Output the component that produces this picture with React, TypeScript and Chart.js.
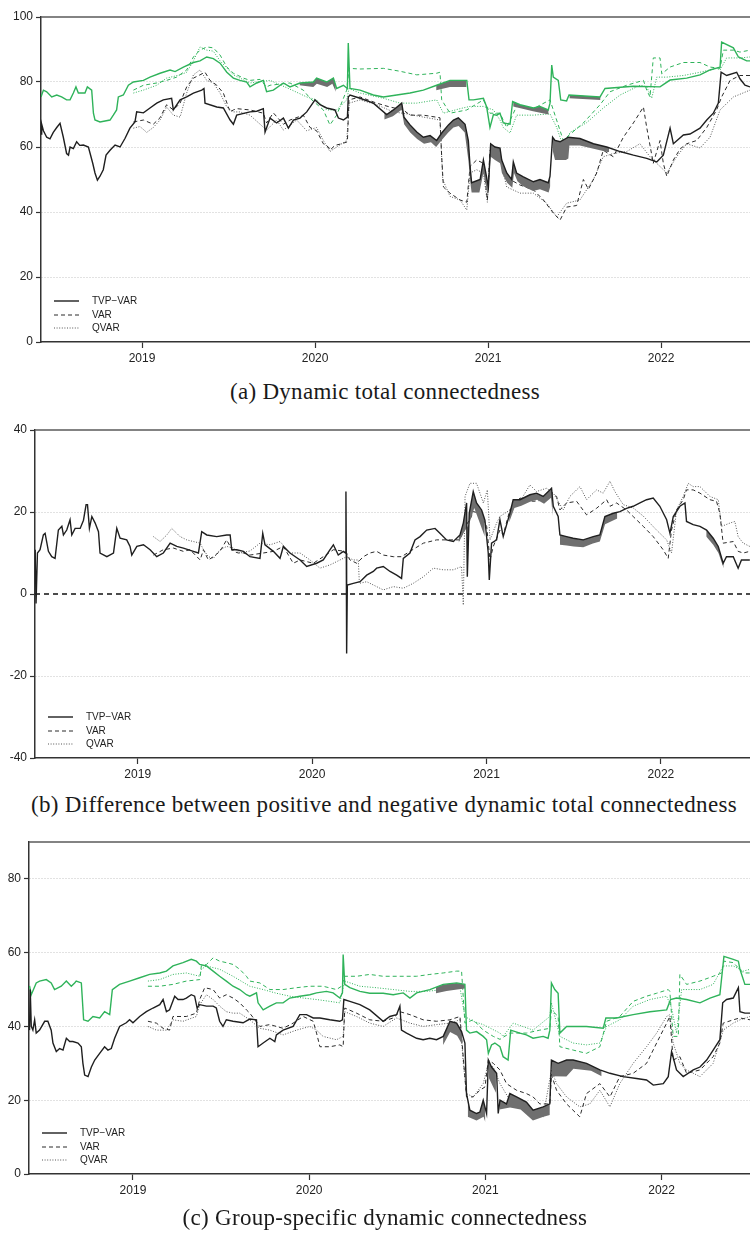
import React, { useEffect, useRef } from "react";
import { Chart, registerables } from "chart.js";

Chart.register(...registerables);

type Pt = [number, number | null];

// ---------- shared labels ----------
const YEAR_TICKS = [2019, 2020, 2021, 2022];
const LEGEND_LABELS = ["TVP\u2212VAR", "VAR", "QVAR"];
const CAPTIONS = [
  "(a) Dynamic total connectedness",
  "(b) Difference between positive and negative dynamic total connectedness",
  "(c) Group-specific dynamic connectedness",
];
const Y_TICKS_A = [0, 20, 40, 60, 80, 100];
const Y_TICKS_B = [-40, -20, 0, 20, 40];
const Y_TICKS_C = [0, 20, 40, 60, 80];

// ---------- panel (a): dynamic total connectedness ----------
const A_TVP: Pt[] = [
  [2018.416, 64], [2018.42, 67], [2018.43, 65], [2018.449, 63], [2018.468, 62.5], [2018.487, 64.5], [2018.507, 66],
  [2018.526, 67.3], [2018.545, 63], [2018.564, 58], [2018.575, 57.5], [2018.584, 60], [2018.603, 59.5], [2018.622, 61.6],
  [2018.64, 60.5], [2018.661, 60.6], [2018.69, 60], [2018.705, 57], [2018.715, 55], [2018.728, 52], [2018.742, 49.8],
  [2018.757, 51], [2018.776, 53], [2018.792, 57.5], [2018.815, 59], [2018.844, 60.6], [2018.873, 60], [2018.902, 62.7],
  [2018.93, 65.8], [2018.959, 67.7], [2018.969, 70.8], [2019.008, 70.5], [2019.046, 72], [2019.085, 73.5], [2019.123, 74.5],
  [2019.171, 75], [2019.181, 71.4], [2019.22, 74.5], [2019.258, 75.4], [2019.297, 76.6], [2019.345, 77.5], [2019.358, 78],
  [2019.364, 73.5], [2019.432, 72.3], [2019.47, 72], [2019.509, 68.3], [2019.528, 67], [2019.547, 69.8], [2019.624, 70.8],
  [2019.663, 71], [2019.701, 71.8], [2019.711, 64.6], [2019.74, 68.9], [2019.778, 67.4], [2019.817, 68.9], [2019.846, 65.8],
  [2019.875, 68.3], [2019.913, 68.9], [2019.952, 70.8], [2020.0, 74.5], [2020.029, 73], [2020.067, 72], [2020.115, 71.4],
  [2020.135, 68.9], [2020.164, 68.3], [2020.187, 69.2], [2020.192, 75.4], [2020.202, 76], [2020.26, 75], [2020.337, 73.5],
  [2020.414, 70], [2020.453, 71.4], [2020.501, 73.5], [2020.514, 69.2], [2020.549, 66.8], [2020.588, 64.6], [2020.626, 63],
  [2020.665, 63.5], [2020.703, 62], [2020.732, 64.3], [2020.771, 66.8], [2020.8, 68.3], [2020.828, 69], [2020.867, 67],
  [2020.886, 62], [2020.896, 54], [2020.905, 49], [2020.954, 50], [2020.973, 56], [2021.002, 47.7], [2021.015, 61],
  [2021.04, 60], [2021.069, 59.7], [2021.079, 56], [2021.108, 52], [2021.136, 50], [2021.146, 55.4], [2021.165, 52],
  [2021.204, 50.8], [2021.262, 49.3], [2021.3, 50], [2021.348, 49], [2021.358, 51], [2021.373, 63], [2021.387, 62],
  [2021.416, 61.6], [2021.464, 63], [2021.531, 62.6], [2021.609, 61], [2021.686, 60], [2021.763, 58.6], [2021.84, 57.5],
  [2021.917, 56.5], [2021.975, 55.4], [2022.013, 57.5], [2022.052, 65.8], [2022.071, 61], [2022.129, 63.7], [2022.167, 64],
  [2022.225, 65.8], [2022.264, 68.3], [2022.302, 70.4], [2022.331, 73.5], [2022.347, 83], [2022.379, 82], [2022.437, 83],
  [2022.456, 81], [2022.485, 79], [2022.514, 78.5],
];
const A_TVP_LOW: Pt[] = [
  [2020.40, 68.5], [2020.45, 69.5], [2020.50, 71.5], [2020.515, 67], [2020.55, 64.5], [2020.59, 62.5], [2020.63, 61],
  [2020.67, 61.5], [2020.70, 60], [2020.73, 62], [2020.77, 64.5], [2020.80, 66], [2020.83, 66.5], [2020.865, 64.5],
  [2020.886, 56], [2020.9, 48], [2020.905, 46], [2020.95, 46], [2020.973, 52], [2021.0, 45], [2021.015, 57],
  [2021.04, 56], [2021.07, 55], [2021.08, 52], [2021.11, 49], [2021.14, 47.5], [2021.15, 52], [2021.17, 49.5],
  [2021.2, 48], [2021.26, 46.5], [2021.3, 47], [2021.35, 46], [2021.36, 48], [2021.365, null],
  [2021.373, 59], [2021.387, 56], [2021.45, 56], [2021.464, 56.5], [2021.47, 60.5], [2021.53, 60.5], [2021.61, 59.5],
  [2021.69, 58.5], [2021.7, 58.5],
];
const A_GREEN_TVP: Pt[] = [
  [2018.416, 75.4], [2018.43, 77.5], [2018.449, 77], [2018.478, 75.4], [2018.507, 76], [2018.535, 75.4], [2018.564, 74.5],
  [2018.584, 74.5], [2018.603, 76.6], [2018.618, 78.5], [2018.632, 76.6], [2018.67, 76.6], [2018.684, 78.5], [2018.709, 77.5],
  [2018.719, 70.4], [2018.728, 68.3], [2018.757, 67.7], [2018.815, 68.3], [2018.834, 69.8], [2018.853, 71.4], [2018.863, 75.4],
  [2018.892, 76], [2018.921, 79], [2018.95, 80], [2019.008, 80.5], [2019.046, 81.5], [2019.104, 82.7], [2019.162, 83.7],
  [2019.191, 83.2], [2019.239, 84.6], [2019.297, 86], [2019.335, 86.5], [2019.374, 87.7], [2019.412, 87.2], [2019.451, 85.8],
  [2019.49, 83], [2019.528, 81.2], [2019.566, 80.5], [2019.605, 80], [2019.624, 78.5], [2019.663, 79.7], [2019.701, 80.5],
  [2019.72, 77], [2019.759, 77.5], [2019.817, 79.7], [2019.855, 78.5], [2019.913, 79.7], [2019.99, 80], [2020.009, 81.2],
  [2020.067, 80], [2020.106, 81.2], [2020.125, 78], [2020.164, 79], [2020.187, 78], [2020.192, 92], [2020.202, 78],
  [2020.26, 77.5], [2020.337, 76], [2020.395, 75.4], [2020.472, 76], [2020.549, 76.6], [2020.626, 77.5], [2020.703, 79],
  [2020.78, 80.5], [2020.877, 80.5], [2020.89, 74.5], [2020.915, 74.5], [2020.973, 75], [2020.992, 72.3], [2021.011, 66],
  [2021.031, 70], [2021.05, 69.8], [2021.069, 70.4], [2021.088, 67.4], [2021.127, 67], [2021.142, 74], [2021.185, 73],
  [2021.262, 72], [2021.3, 72.5], [2021.348, 71.4], [2021.358, 73.5], [2021.368, 85.2], [2021.377, 81.5], [2021.406, 80.5],
  [2021.42, 74.5], [2021.454, 74.2], [2021.468, 76], [2021.647, 75.4], [2021.676, 78], [2021.84, 78.7], [2021.994, 78.5],
  [2022.052, 80.6], [2022.148, 81.2], [2022.225, 82.2], [2022.283, 83.7], [2022.341, 84.6], [2022.35, 92.3], [2022.418, 90.5],
  [2022.447, 87.7], [2022.495, 86.5], [2022.514, 86.5],
];
const A_GREEN_TVP_LOW: Pt[] = [
  [2019.91, 79], [2019.99, 78.5], [2020.01, 79.5], [2020.07, 78.5], [2020.1, 79.5], [2020.12, 77], [2020.13, null],
  [2020.70, 77.5], [2020.78, 78.5], [2020.876, 78.5], [2020.88, null],
  [2021.145, 72.5], [2021.26, 71], [2021.35, 70], [2021.355, null],
  [2021.47, 75], [2021.65, 74.5],
];
const A_VAR: Pt[] = [
  [2018.95, 67.7], [2019.008, 68.3], [2019.065, 67], [2019.104, 69], [2019.142, 73], [2019.181, 71.4], [2019.22, 73.5],
  [2019.258, 78.5], [2019.297, 81.2], [2019.335, 82.2], [2019.364, 83], [2019.393, 80.5], [2019.432, 79], [2019.47, 76.6],
  [2019.509, 70.8], [2019.528, 71.4], [2019.547, 71.8], [2019.624, 71.4], [2019.701, 70.4], [2019.72, 67.4], [2019.759, 70.5],
  [2019.817, 67], [2019.855, 68.3], [2019.932, 69.8], [2019.971, 66], [2020.009, 65], [2020.048, 61], [2020.077, 60],
  [2020.086, 59], [2020.115, 60.5], [2020.154, 61], [2020.187, 61.6], [2020.196, 74.5], [2020.26, 75.4], [2020.356, 73.5],
  [2020.433, 72.3], [2020.51, 71.4], [2020.549, 69.8], [2020.626, 69.8], [2020.722, 69], [2020.732, 57], [2020.742, 47.7],
  [2020.78, 45.8], [2020.838, 43.7], [2020.877, 43], [2020.896, 54], [2020.934, 56], [2020.973, 55], [2020.996, 43.7],
  [2021.011, 59], [2021.04, 59], [2021.069, 56], [2021.127, 50], [2021.185, 48.3], [2021.262, 46.8], [2021.32, 43.7],
  [2021.377, 39.7], [2021.416, 37.5], [2021.454, 41.5], [2021.512, 42], [2021.551, 50], [2021.58, 47], [2021.628, 52],
  [2021.666, 59], [2021.724, 57], [2021.782, 63], [2021.84, 67.4], [2021.898, 72.3], [2021.917, 66], [2021.955, 55],
  [2021.994, 62], [2022.013, 55], [2022.033, 51], [2022.071, 56], [2022.11, 59.4], [2022.148, 61], [2022.206, 62],
  [2022.264, 66], [2022.321, 71.4], [2022.35, 75.4], [2022.399, 80.5], [2022.456, 82], [2022.514, 82],
];
const A_QVAR: Pt[] = [
  [2018.95, 65.8], [2018.988, 66.3], [2019.027, 64.5], [2019.065, 66], [2019.104, 68.3], [2019.142, 72.3], [2019.181, 69.8],
  [2019.22, 69.2], [2019.258, 76.6], [2019.297, 82.2], [2019.335, 83.7], [2019.374, 80.5], [2019.412, 79.7], [2019.451, 76.6],
  [2019.49, 72.3], [2019.528, 70.8], [2019.566, 70.8], [2019.624, 69.8], [2019.72, 65.2], [2019.778, 68.3], [2019.817, 65.2],
  [2019.894, 68.3], [2019.952, 65], [2020.009, 66], [2020.048, 62], [2020.086, 58.6], [2020.125, 60], [2020.183, 62],
  [2020.198, 73.5], [2020.26, 74.5], [2020.356, 73], [2020.453, 70.8], [2020.53, 70.2], [2020.626, 69.2], [2020.722, 68.3],
  [2020.738, 50], [2020.78, 44.8], [2020.838, 43.7], [2020.877, 40.6], [2020.896, 52], [2020.934, 53], [2020.973, 52],
  [2020.996, 43], [2021.011, 57.5], [2021.069, 56], [2021.079, 54], [2021.108, 47.7], [2021.185, 45.8], [2021.262, 45.8],
  [2021.339, 42.7], [2021.397, 38.5], [2021.454, 42.7], [2021.531, 43.7], [2021.609, 50], [2021.666, 57], [2021.724, 58],
  [2021.801, 58.6], [2021.878, 61], [2021.936, 57], [2021.994, 54], [2022.033, 52], [2022.09, 57], [2022.148, 61],
  [2022.225, 59.7], [2022.283, 63], [2022.341, 71.4], [2022.418, 75.4], [2022.514, 77.5],
];
const A_GREEN_VAR: Pt[] = [
  [2018.95, 77.5], [2019.008, 79], [2019.085, 79.7], [2019.142, 80.5], [2019.2, 81.5], [2019.258, 83.7], [2019.297, 87.7],
  [2019.335, 89.8], [2019.374, 90.8], [2019.412, 90.5], [2019.451, 88.3], [2019.49, 84.6], [2019.528, 82.7], [2019.586, 81.2],
  [2019.624, 80.5], [2019.682, 80.8], [2019.72, 78.5], [2019.74, 79], [2019.855, 79.7], [2019.932, 77.5], [2019.971, 75],
  [2020.048, 71.4], [2020.086, 66.8], [2020.125, 69.8], [2020.183, 77.5], [2020.196, 84.2], [2020.26, 84], [2020.395, 84.2],
  [2020.491, 83.3], [2020.588, 82.2], [2020.703, 82.7], [2020.722, 83], [2020.732, 74.5], [2020.78, 70.4], [2020.877, 71.4],
  [2020.973, 74.5], [2021.011, 70.4], [2021.069, 70.4], [2021.108, 66], [2021.165, 72.5], [2021.262, 71.8], [2021.358, 74.5],
  [2021.377, 71.4], [2021.435, 62], [2021.454, 63], [2021.551, 67.4], [2021.647, 73], [2021.705, 77], [2021.801, 79],
  [2021.898, 80.5], [2021.917, 77.5], [2021.936, 75.4], [2021.955, 87.4], [2021.994, 87.4], [2022.004, 82.5], [2022.052, 84.6],
  [2022.129, 86], [2022.225, 86], [2022.283, 84.6], [2022.341, 84.2], [2022.36, 89.8], [2022.418, 89.8], [2022.456, 89.2],
  [2022.514, 89.8],
];
const A_GREEN_QVAR: Pt[] = [
  [2018.95, 76.6], [2019.008, 77.5], [2019.085, 79], [2019.142, 81.2], [2019.22, 82.2], [2019.258, 83], [2019.297, 86.5],
  [2019.335, 90.8], [2019.374, 89.8], [2019.412, 89.5], [2019.451, 86.5], [2019.528, 82.2], [2019.624, 79.7], [2019.74, 80.5],
  [2019.855, 77.8], [2019.952, 75.4], [2020.009, 74.5], [2020.067, 71.4], [2020.125, 71.4], [2020.183, 74.5], [2020.196, 78],
  [2020.26, 76.6], [2020.395, 75], [2020.491, 73.5], [2020.588, 73.5], [2020.703, 74.5], [2020.742, 70.4], [2020.838, 71.8],
  [2020.896, 72.5], [2020.973, 72.5], [2021.031, 71.4], [2021.069, 68.3], [2021.088, 66], [2021.127, 64.3], [2021.165, 69.8],
  [2021.262, 69.8], [2021.358, 70.2], [2021.397, 66], [2021.435, 60], [2021.474, 64.5], [2021.57, 67.5], [2021.666, 72],
  [2021.763, 76], [2021.878, 79], [2021.917, 78.5], [2021.946, 75], [2021.975, 81.5], [2022.033, 81.5], [2022.129, 82],
  [2022.225, 83], [2022.321, 84.2], [2022.341, 83.7], [2022.379, 87.4], [2022.456, 87.4], [2022.514, 87.7],
];

// ---------- panel (b): positive minus negative ----------
const B_TVP: Pt[] = [
  [2018.412, 10.8], [2018.417, -2.3], [2018.425, 10], [2018.44, 10.8], [2018.459, 14.4], [2018.469, 14.8], [2018.488, 10.4],
  [2018.507, 9.1], [2018.526, 8.7], [2018.545, 15.6], [2018.565, 16.5], [2018.574, 14.4], [2018.593, 15.6], [2018.612, 18.1],
  [2018.622, 14.4], [2018.641, 16], [2018.67, 16], [2018.689, 18], [2018.704, 21.8], [2018.712, 21.8], [2018.723, 16],
  [2018.737, 18.9], [2018.756, 17.3], [2018.775, 15.2], [2018.784, 10], [2018.823, 9.1], [2018.861, 10], [2018.88, 16],
  [2018.899, 13.6], [2018.937, 13.2], [2018.956, 11.6], [2018.966, 9.5], [2018.995, 11.6], [2019.033, 12], [2019.071, 10.8],
  [2019.109, 9.1], [2019.147, 10], [2019.186, 12.4], [2019.224, 11.6], [2019.262, 11.2], [2019.319, 10.4], [2019.348, 10],
  [2019.367, 15.2], [2019.396, 14.4], [2019.453, 14], [2019.51, 14.4], [2019.53, 14.4], [2019.539, 10.8], [2019.568, 10.8],
  [2019.606, 10.4], [2019.644, 9.1], [2019.701, 8.7], [2019.717, 14.8], [2019.73, 12], [2019.778, 10.4], [2019.816, 8.7],
  [2019.835, 11.6], [2019.873, 10], [2019.931, 8.3], [2019.969, 6.7], [2020.026, 7.5], [2020.064, 8.3], [2020.103, 10.8],
  [2020.122, 12], [2020.15, 9.5], [2020.179, 10.4], [2020.192, 10], [2020.194, 25], [2020.196, 10], [2020.198, -14.5],
  [2020.202, 2.2], [2020.236, 2.6], [2020.275, 3], [2020.313, 4.6], [2020.351, 5.5], [2020.37, 6.3], [2020.408, 6.7],
  [2020.447, 5.5], [2020.485, 4.6], [2020.513, 3.8], [2020.523, 8.7], [2020.561, 10], [2020.59, 13.2], [2020.619, 14],
  [2020.657, 15.6], [2020.705, 16], [2020.733, 14.8], [2020.771, 13.2], [2020.81, 12.8], [2020.848, 14.4], [2020.867, 17.3],
  [2020.886, 22.2], [2020.89, 4.2], [2020.901, 19.7], [2020.924, 25], [2020.943, 22.2], [2020.972, 20.5], [2020.991, 18],
  [2021.01, 10], [2021.016, 3.4], [2021.029, 12.4], [2021.058, 13.2], [2021.077, 18.1], [2021.096, 14], [2021.134, 19.7],
  [2021.153, 23], [2021.192, 23], [2021.249, 24.2], [2021.287, 24.6], [2021.325, 23.8], [2021.373, 25.8], [2021.383, 21.4],
  [2021.411, 18.9], [2021.421, 14.4], [2021.459, 14], [2021.497, 13.6], [2021.555, 13.2], [2021.612, 14], [2021.65, 14.4],
  [2021.679, 18.9], [2021.727, 19.7], [2021.765, 20.1], [2021.803, 20.9], [2021.841, 21.4], [2021.88, 22.2], [2021.918, 23],
  [2021.956, 23.4], [2021.994, 21.4], [2022.033, 18.1], [2022.052, 14.8], [2022.071, 18.9], [2022.109, 21.4], [2022.138, 22.2],
  [2022.147, 17.7], [2022.185, 16.9], [2022.224, 16.5], [2022.262, 15.6], [2022.3, 13.6], [2022.329, 11.6], [2022.357, 7.5],
  [2022.376, 9.1], [2022.415, 9.1], [2022.443, 6.3], [2022.462, 8.3], [2022.51, 8.3],
];
const B_TVP_LOW: Pt[] = [
  [2020.84, 12.5], [2020.87, 15], [2020.9, 17], [2020.93, 21], [2020.96, 17.5], [2020.99, 14], [2020.995, null],
  [2021.13, 17.5], [2021.16, 21], [2021.2, 21.5], [2021.25, 22.5], [2021.29, 23], [2021.33, 22], [2021.37, 23.5],
  [2021.38, 19], [2021.39, null],
  [2021.421, 12], [2021.46, 11.8], [2021.5, 11.6], [2021.555, 11.4], [2021.61, 12.3], [2021.65, 12.8], [2021.68, 17],
  [2021.75, 18.4], [2021.76, null],
  [2022.26, 14], [2022.3, 12], [2022.33, 10], [2022.36, 6.3],
];
const B_VAR: Pt[] = [
  [2019.09, 9.5], [2019.147, 10.8], [2019.205, 11.2], [2019.262, 10.4], [2019.3, 10.8], [2019.358, 8.3], [2019.377, 10.8],
  [2019.405, 8.3], [2019.434, 9.1], [2019.472, 10.4], [2019.51, 13.2], [2019.53, 11.6], [2019.549, 10.4], [2019.577, 10],
  [2019.606, 10], [2019.644, 9.5], [2019.72, 10], [2019.778, 10.4], [2019.835, 11.6], [2019.892, 7.5], [2019.931, 8.3],
  [2020.007, 7.5], [2020.064, 9.1], [2020.122, 10.8], [2020.189, 10.4], [2020.217, 8.3], [2020.256, 7.5], [2020.294, 9.1],
  [2020.332, 10], [2020.37, 10.4], [2020.408, 9.5], [2020.466, 9.1], [2020.513, 9.1], [2020.561, 10.4], [2020.638, 12.4],
  [2020.714, 13.2], [2020.791, 13.2], [2020.848, 13.2], [2020.877, 16.5], [2020.905, 18.1], [2020.924, 20.1], [2020.963, 19.7],
  [2021.001, 16.5], [2021.02, 8.3], [2021.039, 11.6], [2021.077, 15.6], [2021.096, 14.4], [2021.134, 20.5], [2021.192, 23.4],
  [2021.268, 22.6], [2021.345, 23], [2021.373, 24.6], [2021.402, 23.8], [2021.421, 20.5], [2021.459, 22.2], [2021.517, 22.6],
  [2021.574, 19.3], [2021.631, 20.9], [2021.689, 23], [2021.708, 21.4], [2021.746, 22.2], [2021.803, 20.5], [2021.841, 18.9],
  [2021.899, 16.5], [2021.956, 14], [2022.013, 10.8], [2022.042, 8.7], [2022.061, 15.6], [2022.09, 20.5], [2022.128, 23],
  [2022.147, 25.4], [2022.185, 25.4], [2022.224, 24.6], [2022.281, 23], [2022.319, 22.6], [2022.338, 19.7], [2022.357, 12.4],
  [2022.415, 12.8], [2022.443, 10.4], [2022.472, 10], [2022.51, 10.4],
];
const B_QVAR: Pt[] = [
  [2019.09, 14], [2019.128, 12.8], [2019.167, 14.4], [2019.195, 16], [2019.243, 14], [2019.281, 13.2], [2019.319, 12.8],
  [2019.358, 12.4], [2019.377, 10.8], [2019.405, 9.1], [2019.434, 8.7], [2019.472, 10.8], [2019.51, 11.6], [2019.549, 11.2],
  [2019.587, 10], [2019.644, 10.5], [2019.701, 12.4], [2019.759, 12], [2019.816, 12.8], [2019.873, 10], [2019.931, 10],
  [2019.988, 8.3], [2020.045, 6.3], [2020.103, 7.1], [2020.16, 8.3], [2020.198, 9.1], [2020.236, 8.3], [2020.265, 8.3],
  [2020.271, 2.6], [2020.313, 3], [2020.37, 1.8], [2020.408, 1], [2020.466, 1.8], [2020.523, 1.4], [2020.58, 2.6],
  [2020.638, 4.2], [2020.695, 6.3], [2020.752, 5.9], [2020.81, 5.9], [2020.857, 6.7], [2020.867, -2.7], [2020.877, 23.8],
  [2020.905, 27], [2020.943, 27], [2020.982, 22.2], [2021.005, 25.4], [2021.02, 13.2], [2021.058, 17.3], [2021.077, 18.9],
  [2021.134, 20.5], [2021.192, 22.6], [2021.249, 26.6], [2021.287, 25], [2021.345, 25.8], [2021.383, 24.6], [2021.411, 22.6],
  [2021.44, 20.5], [2021.478, 23.8], [2021.536, 26.2], [2021.574, 23], [2021.631, 25.4], [2021.669, 24.6], [2021.708, 27.5],
  [2021.736, 25], [2021.784, 21.8], [2021.841, 21], [2021.899, 19], [2021.975, 15.6], [2022.033, 13.2], [2022.061, 10],
  [2022.09, 20.5], [2022.128, 23.8], [2022.157, 27], [2022.185, 26.2], [2022.224, 26.2], [2022.281, 23.8], [2022.329, 23],
  [2022.348, 16.5], [2022.396, 17.3], [2022.424, 17.7], [2022.443, 14], [2022.472, 12.4], [2022.51, 11.6],
];
const B_ZERO: Pt[] = [[2018.411, 0], [2022.511, 0]];

// ---------- panel (c): group-specific ----------
const C_TVP: Pt[] = [
  [2018.413, 39], [2018.417, 50], [2018.423, 40], [2018.432, 39], [2018.442, 41.8], [2018.451, 38.2], [2018.47, 39],
  [2018.499, 41.4], [2018.517, 41.4], [2018.536, 39], [2018.546, 35.5], [2018.565, 33.2], [2018.584, 34], [2018.603, 33.6],
  [2018.622, 36.8], [2018.641, 35.9], [2018.659, 35.9], [2018.688, 35.5], [2018.707, 34.5], [2018.716, 30], [2018.726, 26.8],
  [2018.745, 26.4], [2018.764, 29], [2018.783, 30.9], [2018.811, 32.7], [2018.839, 34.5], [2018.858, 33.6], [2018.877, 34],
  [2018.896, 36.8], [2018.924, 40], [2018.962, 41], [2018.981, 41.8], [2019.0, 41], [2019.038, 42.7], [2019.076, 44],
  [2019.114, 45], [2019.152, 45.9], [2019.171, 47.3], [2019.19, 44], [2019.208, 44.5], [2019.237, 48.2], [2019.256, 47.3],
  [2019.284, 47.3], [2019.303, 47.7], [2019.331, 48.6], [2019.35, 48.2], [2019.364, 45], [2019.379, 45.9], [2019.417, 45.5],
  [2019.455, 45.5], [2019.473, 45], [2019.492, 41.4], [2019.511, 40], [2019.53, 41.8], [2019.568, 41.4], [2019.625, 41],
  [2019.663, 42], [2019.701, 41.8], [2019.71, 34.5], [2019.739, 35.5], [2019.777, 36.8], [2019.805, 35.9], [2019.814, 37.7],
  [2019.852, 39], [2019.909, 40], [2019.947, 43.2], [2019.985, 43.2], [2020.023, 42.3], [2020.061, 42.3], [2020.117, 41.8],
  [2020.174, 41.4], [2020.189, 41.8], [2020.197, 47.3], [2020.231, 46.8], [2020.288, 45.9], [2020.344, 44.5], [2020.42, 41.4],
  [2020.458, 42.7], [2020.496, 43.2], [2020.515, 45.5], [2020.524, 39], [2020.553, 38.2], [2020.61, 36.8], [2020.647, 36.4],
  [2020.685, 36.8], [2020.723, 36.4], [2020.761, 37.3], [2020.799, 41.4], [2020.837, 40.9], [2020.865, 38.6], [2020.884, 35.5],
  [2020.893, 21.8], [2020.912, 17.3], [2020.95, 16.4], [2020.969, 16.8], [2020.988, 20], [2021.007, 16.4], [2021.017, 30.9],
  [2021.035, 29], [2021.064, 27.3], [2021.073, 16.4], [2021.083, 20], [2021.12, 19], [2021.139, 21.8], [2021.177, 20.9],
  [2021.233, 19.5], [2021.271, 17.3], [2021.328, 18.2], [2021.366, 19], [2021.375, 30.9], [2021.413, 30], [2021.461, 30.9],
  [2021.498, 30.9], [2021.574, 30], [2021.65, 28.2], [2021.707, 27.3], [2021.782, 26.4], [2021.858, 25.9], [2021.915, 25.5],
  [2021.953, 24.1], [2022.01, 24.5], [2022.038, 26.4], [2022.057, 33.2], [2022.085, 28.2], [2022.123, 26.4], [2022.18, 28.2],
  [2022.218, 29], [2022.256, 30.9], [2022.293, 33.6], [2022.331, 36.4], [2022.347, 46.4], [2022.369, 47.3], [2022.407, 47.7],
  [2022.436, 50.5], [2022.445, 44], [2022.473, 43.6], [2022.502, 43.6],
];
const C_TVP_LOW: Pt[] = [
  [2020.76, 35], [2020.8, 38.5], [2020.84, 37.5], [2020.87, 35], [2020.88, null],
  [2020.9, 15.5], [2020.95, 14.5], [2020.99, 15.5], [2021.0, 14], [2021.01, null],
  [2021.02, 26], [2021.06, 22], [2021.07, null],
  [2021.08, 17.5], [2021.14, 18], [2021.2, 17.5], [2021.27, 14.5], [2021.33, 15.5], [2021.366, 16], [2021.37, null],
  [2021.378, 26.5], [2021.46, 26.4], [2021.5, 28.5], [2021.6, 28], [2021.66, 26.5],
];
const C_GREEN_TVP: Pt[] = [
  [2018.413, 51], [2018.423, 48.6], [2018.451, 51.8], [2018.47, 52.3], [2018.508, 52.7], [2018.536, 51.8], [2018.555, 50],
  [2018.593, 50.9], [2018.622, 52.3], [2018.65, 50.9], [2018.669, 51.8], [2018.678, 52.3], [2018.707, 51.8], [2018.72, 41.8],
  [2018.745, 41.4], [2018.773, 42.7], [2018.811, 42.3], [2018.839, 44], [2018.868, 43.2], [2018.883, 50], [2018.924, 51.4],
  [2018.981, 52.3], [2019.038, 53.2], [2019.095, 54.1], [2019.152, 54.5], [2019.19, 55], [2019.227, 56.4], [2019.284, 57.3],
  [2019.331, 58.2], [2019.36, 57.7], [2019.379, 56.8], [2019.417, 56.4], [2019.455, 55], [2019.492, 53.6], [2019.53, 52.3],
  [2019.568, 50.9], [2019.606, 50], [2019.644, 48.6], [2019.663, 48.2], [2019.701, 49.1], [2019.71, 46.4], [2019.739, 44.5],
  [2019.777, 45.5], [2019.814, 46.4], [2019.852, 46.4], [2019.89, 47.7], [2019.947, 48.2], [2020.004, 48.6], [2020.042, 49.1],
  [2020.098, 49.5], [2020.136, 49.1], [2020.174, 47.7], [2020.189, 49.1], [2020.193, 59.5], [2020.202, 51.4], [2020.231, 50.5],
  [2020.288, 49.5], [2020.344, 49], [2020.42, 49], [2020.477, 48.6], [2020.534, 49.1], [2020.572, 47.7], [2020.61, 49.1],
  [2020.685, 50], [2020.761, 51.4], [2020.837, 51.8], [2020.884, 51.4], [2020.893, 39], [2020.912, 38.2], [2020.95, 38.6],
  [2020.988, 37.3], [2021.007, 36.4], [2021.017, 32.7], [2021.035, 35], [2021.054, 35.5], [2021.083, 34.5], [2021.101, 31.8],
  [2021.129, 30.9], [2021.144, 39], [2021.196, 38.2], [2021.233, 37.7], [2021.271, 36.8], [2021.328, 37.3], [2021.356, 36.8],
  [2021.366, 39], [2021.375, 51.8], [2021.394, 50], [2021.413, 49], [2021.423, 38.2], [2021.461, 40], [2021.574, 40],
  [2021.669, 39.5], [2021.684, 42.3], [2021.745, 42.3], [2021.839, 43.2], [2021.934, 44], [2022.029, 44.5], [2022.051, 47.3],
  [2022.085, 47.7], [2022.142, 47.3], [2022.218, 46.4], [2022.275, 47.7], [2022.331, 48.6], [2022.354, 59], [2022.407, 58.2],
  [2022.436, 57.7], [2022.445, 55.5], [2022.473, 51.4], [2022.502, 51.4],
];
const C_GREEN_TVP_LOW: Pt[] = [
  [2020.72, 49], [2020.78, 49.6], [2020.84, 50], [2020.884, 50.3],
];
const C_VAR: Pt[] = [
  [2019.085, 41.4], [2019.133, 40.9], [2019.171, 39.5], [2019.208, 39], [2019.227, 42.7], [2019.303, 42.7], [2019.36, 43.6],
  [2019.379, 47.3], [2019.407, 50.5], [2019.455, 50], [2019.492, 47.7], [2019.53, 48.6], [2019.568, 47.7], [2019.606, 46.4],
  [2019.644, 44.5], [2019.663, 43.6], [2019.72, 40], [2019.777, 40.5], [2019.852, 39.5], [2019.909, 40.9], [2019.966, 42.7],
  [2020.023, 41.4], [2020.042, 38.2], [2020.061, 34.5], [2020.117, 34.5], [2020.174, 35], [2020.193, 34.5], [2020.202, 45],
  [2020.269, 43.6], [2020.344, 41.8], [2020.42, 41.4], [2020.477, 42.3], [2020.515, 44], [2020.572, 43.2], [2020.647, 41.8],
  [2020.723, 41.4], [2020.799, 41.8], [2020.856, 42.7], [2020.865, 37.3], [2020.893, 20.9], [2020.931, 20.9], [2020.969, 22.7],
  [2020.998, 23.6], [2021.017, 30.9], [2021.045, 30], [2021.083, 28.2], [2021.12, 24.5], [2021.177, 22.7], [2021.233, 21.8],
  [2021.271, 20.9], [2021.309, 19], [2021.366, 19], [2021.375, 27], [2021.404, 22.7], [2021.461, 19], [2021.536, 15.5],
  [2021.574, 21.8], [2021.65, 24.5], [2021.707, 20.9], [2021.763, 26.4], [2021.839, 27.3], [2021.915, 30], [2021.972, 35.5],
  [2022.029, 40.9], [2022.047, 42.7], [2022.066, 30.9], [2022.104, 31.8], [2022.142, 27.3], [2022.218, 28.2], [2022.293, 31.8],
  [2022.331, 35.5], [2022.35, 40.9], [2022.407, 41.8], [2022.445, 42.3], [2022.502, 41.8],
];
const C_QVAR: Pt[] = [
  [2019.085, 40], [2019.133, 39], [2019.19, 39], [2019.227, 41.8], [2019.284, 41.4], [2019.36, 42.7], [2019.379, 45.9],
  [2019.417, 48.6], [2019.455, 47.3], [2019.492, 45.5], [2019.53, 44], [2019.568, 43.6], [2019.606, 43.6], [2019.663, 41.8],
  [2019.72, 39.5], [2019.777, 39], [2019.852, 37.7], [2019.928, 39], [2020.004, 40], [2020.042, 39], [2020.079, 37.3],
  [2020.155, 36.4], [2020.193, 37.3], [2020.202, 44], [2020.269, 42.7], [2020.344, 40.9], [2020.42, 40], [2020.496, 42.3],
  [2020.572, 40.9], [2020.647, 40], [2020.723, 40.5], [2020.799, 40.9], [2020.856, 41.8], [2020.875, 30], [2020.893, 21.8],
  [2020.931, 20.9], [2020.988, 24.5], [2021.017, 30], [2021.045, 29], [2021.083, 24.5], [2021.139, 20], [2021.196, 19],
  [2021.271, 17.3], [2021.328, 15.5], [2021.375, 28.2], [2021.404, 24.5], [2021.461, 20.9], [2021.536, 18.2], [2021.593, 19],
  [2021.65, 22.7], [2021.707, 18.2], [2021.763, 24.5], [2021.839, 30], [2021.915, 34.5], [2021.972, 38.2], [2022.029, 42.7],
  [2022.047, 43.2], [2022.066, 35.5], [2022.104, 30], [2022.142, 28.2], [2022.218, 26.4], [2022.293, 30], [2022.35, 39],
  [2022.407, 40.9], [2022.445, 41.8], [2022.502, 42.7],
];
const C_GREEN_VAR: Pt[] = [
  [2019.085, 50.9], [2019.152, 50.9], [2019.227, 51.4], [2019.303, 52.3], [2019.379, 52.7], [2019.388, 56.4], [2019.417, 56.8],
  [2019.455, 58.6], [2019.492, 57.7], [2019.53, 57.3], [2019.568, 56.8], [2019.606, 55.5], [2019.644, 53.6], [2019.663, 52.3],
  [2019.72, 51.8], [2019.777, 50], [2019.852, 50], [2019.928, 50.5], [2020.004, 50.9], [2020.079, 50.9], [2020.155, 50],
  [2020.184, 50.9], [2020.202, 53.6], [2020.269, 53.6], [2020.344, 54.1], [2020.42, 53.6], [2020.515, 53.6], [2020.61, 53.6],
  [2020.685, 54.1], [2020.761, 54.5], [2020.837, 55], [2020.865, 55], [2020.884, 40.9], [2020.931, 41.8], [2020.988, 39],
  [2021.045, 37.3], [2021.083, 36.5], [2021.139, 38.2], [2021.233, 38.2], [2021.309, 39], [2021.366, 39.5], [2021.375, 44.5],
  [2021.413, 42.7], [2021.423, 34.5], [2021.498, 33.6], [2021.574, 32.7], [2021.65, 34.5], [2021.688, 41.4], [2021.763, 42.7],
  [2021.839, 46.8], [2021.915, 48.2], [2021.972, 49], [2022.038, 50], [2022.047, 49.5], [2022.066, 37.3], [2022.095, 37.3],
  [2022.104, 54.1], [2022.142, 51.4], [2022.218, 52.3], [2022.293, 53.6], [2022.341, 54.5], [2022.354, 57.7], [2022.407, 57.3],
  [2022.464, 54.5], [2022.502, 54.5],
];
const C_GREEN_QVAR: Pt[] = [
  [2019.085, 52.3], [2019.152, 52.7], [2019.227, 54.1], [2019.303, 54.5], [2019.379, 53.6], [2019.388, 55.5], [2019.417, 56.4],
  [2019.492, 55.5], [2019.568, 53.6], [2019.663, 50.9], [2019.739, 50], [2019.814, 49], [2019.89, 48.2], [2019.966, 47.7],
  [2020.042, 47.3], [2020.117, 46.8], [2020.174, 46.4], [2020.202, 52.3], [2020.288, 50.9], [2020.382, 50.5], [2020.477, 50],
  [2020.572, 49.5], [2020.666, 49.5], [2020.761, 50], [2020.856, 50.5], [2020.884, 42.7], [2020.931, 41.4], [2020.988, 40.5],
  [2021.083, 38.2], [2021.101, 37.3], [2021.158, 40.9], [2021.271, 39], [2021.366, 42.7], [2021.375, 46.4], [2021.423, 37.3],
  [2021.498, 35.5], [2021.574, 35], [2021.65, 35.5], [2021.688, 40], [2021.763, 41.8], [2021.839, 45.5], [2021.934, 47.3],
  [2022.029, 48.2], [2022.057, 45], [2022.085, 38.2], [2022.114, 50], [2022.218, 50], [2022.293, 51.4], [2022.35, 56.4],
  [2022.407, 56.4], [2022.464, 55], [2022.502, 55.5],
];

// ---------- styling ----------
const BLACK = "#1f1f1f";
const DASH_BLACK = "#2b2b2b";
const DOT_BLACK = "#555555";
const GREEN = "#2fb35a";
const BAND = "#6f6f6f";
const SANS = "'Liberation Sans', Arial, sans-serif";

const toXY = (a: Pt[]) => a.map(([x, y]) => ({ x, y }));

type Kind = "solid" | "dash" | "dot" | "band" | "zero";

function ds(data: Pt[], kind: Kind, color: string, fillRel?: string) {
  const base: any = {
    data: toXY(data),
    pointRadius: 0,
    pointHoverRadius: 0,
    tension: 0,
    spanGaps: false,
    fill: false,
    borderColor: color,
    backgroundColor: color,
  };
  if (kind === "solid") {
    base.borderWidth = 1.4;
  } else if (kind === "dash") {
    base.borderWidth = 1;
    base.borderDash = [4, 3];
  } else if (kind === "dot") {
    base.borderWidth = 1;
    base.borderDash = [1, 1.6];
  } else if (kind === "zero") {
    base.borderWidth = 1.6;
    base.borderDash = [5, 4];
  } else if (kind === "band") {
    base.borderWidth = 0;
    base.borderColor = "rgba(0,0,0,0)";
    base.backgroundColor = color;
    base.fill = fillRel;
  }
  return base;
}

const frameLegendPlugin = {
  id: "frameLegend",
  afterDraw(chart: any) {
    const { ctx, chartArea } = chart;
    ctx.save();
    // top frame line
    ctx.strokeStyle = "#5a5a5a";
    ctx.lineWidth = 1.5;
    ctx.setLineDash([]);
    ctx.beginPath();
    ctx.moveTo(chartArea.left, chartArea.top);
    ctx.lineTo(chartArea.right, chartArea.top);
    ctx.stroke();
    // legend
    const styles = [
      { dash: [] as number[], w: 1.4, c: BLACK },
      { dash: [4, 3], w: 1, c: DASH_BLACK },
      { dash: [1, 1.6], w: 1, c: DOT_BLACK },
    ];
    const offs = [41, 27, 14];
    ctx.font = `10px ${SANS}`;
    ctx.textBaseline = "middle";
    ctx.fillStyle = "#222";
    LEGEND_LABELS.forEach((lab, i) => {
      const y = chartArea.bottom - offs[i];
      const s = styles[i];
      ctx.strokeStyle = s.c;
      ctx.lineWidth = s.w;
      ctx.setLineDash(s.dash);
      ctx.beginPath();
      ctx.moveTo(chartArea.left + 13, y);
      ctx.lineTo(chartArea.left + 38, y);
      ctx.stroke();
      ctx.fillText(lab, chartArea.left + 51, y);
    });
    ctx.restore();
  },
};

type PanelSpec = {
  datasets: any[];
  yTicks: number[];
  yMin: number;
  yMax: number;
  xMin: number;
  xMax: number;
  yWidth: number;
  xHeight: number;
};

function buildConfig(p: PanelSpec): any {
  return {
    type: "line",
    data: { datasets: p.datasets },
    plugins: [frameLegendPlugin],
    options: {
      animation: false,
      responsive: false,
      maintainAspectRatio: false,
      events: [],
      layout: { padding: { top: 17, left: 0, right: 0, bottom: 0 } },
      plugins: { legend: { display: false }, tooltip: { enabled: false } },
      scales: {
        x: {
          type: "linear",
          min: p.xMin,
          max: p.xMax,
          afterBuildTicks: (axis: any) => {
            axis.ticks = YEAR_TICKS.map((v) => ({ value: v }));
          },
          afterFit: (axis: any) => {
            axis.height = p.xHeight;
          },
          grid: {
            drawOnChartArea: false,
            drawTicks: true,
            tickLength: 6,
            tickColor: "#333",
            tickWidth: 1.2,
          },
          border: { display: true, color: "#333", width: 1.5 },
          ticks: {
            autoSkip: false,
            maxRotation: 0,
            padding: 3,
            color: "#222",
            font: { family: SANS, size: 12 },
            callback: (v: any) => String(v),
          },
        },
        y: {
          type: "linear",
          min: p.yMin,
          max: p.yMax,
          afterBuildTicks: (axis: any) => {
            axis.ticks = p.yTicks.map((v) => ({ value: v }));
          },
          afterFit: (axis: any) => {
            axis.width = p.yWidth;
          },
          grid: {
            drawOnChartArea: true,
            drawTicks: true,
            tickLength: 5,
            tickColor: "#333",
            tickWidth: 1.2,
            lineWidth: 1,
            color: (ctx: any) => {
              const v = ctx.tick ? ctx.tick.value : null;
              return v === p.yMin || v === p.yMax || v === 0 ? "rgba(0,0,0,0)" : "#c4c4c4";
            },
          },
          border: { display: true, color: "#333", width: 1.5, dash: [1, 2] },
          ticks: {
            padding: 3,
            color: "#222",
            font: { family: SANS, size: 12 },
            callback: (v: any) => String(v),
          },
        },
      },
    },
  };
}

const PANEL_A: PanelSpec = {
  datasets: [
    ds(A_TVP, "solid", BLACK),
    ds(A_GREEN_TVP, "solid", GREEN),
    ds(A_TVP_LOW, "band", BAND, "-2"),
    ds(A_GREEN_TVP_LOW, "band", BAND, "-2"),
    ds(A_VAR, "dash", DASH_BLACK),
    ds(A_QVAR, "dot", DOT_BLACK),
    ds(A_GREEN_VAR, "dash", GREEN),
    ds(A_GREEN_QVAR, "dot", GREEN),
  ],
  yTicks: Y_TICKS_A,
  yMin: 0,
  yMax: 100,
  xMin: 2018.416,
  xMax: 2022.514,
  yWidth: 41,
  xHeight: 34,
};

const PANEL_B: PanelSpec = {
  datasets: [
    ds(B_TVP, "solid", BLACK),
    ds(B_TVP_LOW, "band", BAND, "-1"),
    ds(B_VAR, "dash", DASH_BLACK),
    ds(B_QVAR, "dot", DOT_BLACK),
    ds(B_ZERO, "zero", "#111"),
  ],
  yTicks: Y_TICKS_B,
  yMin: -40,
  yMax: 40,
  xMin: 2018.411,
  xMax: 2022.511,
  yWidth: 35,
  xHeight: 33,
};

const PANEL_C: PanelSpec = {
  datasets: [
    ds(C_TVP, "solid", BLACK),
    ds(C_GREEN_TVP, "solid", GREEN),
    ds(C_TVP_LOW, "band", BAND, "-2"),
    ds(C_GREEN_TVP_LOW, "band", BAND, "-2"),
    ds(C_VAR, "dash", DASH_BLACK),
    ds(C_QVAR, "dot", DOT_BLACK),
    ds(C_GREEN_VAR, "dash", GREEN),
    ds(C_GREEN_QVAR, "dot", GREEN),
  ],
  yTicks: Y_TICKS_C,
  yMin: 0,
  yMax: 90,
  xMin: 2018.41,
  xMax: 2022.502,
  yWidth: 29,
  xHeight: 34,
};

function Panel({ spec, top, height }: { spec: PanelSpec; top: number; height: number }) {
  const ref = useRef<HTMLCanvasElement | null>(null);
  useEffect(() => {
    if (!ref.current) return;
    const chart = new Chart(ref.current, buildConfig(spec));
    return () => chart.destroy();
  }, [spec]);
  return (
    <canvas
      ref={ref}
      width={750}
      height={height}
      style={{ position: "absolute", left: 0, top, width: 750, height, display: "block" }}
    />
  );
}

function Caption({ text, cx, cy }: { text: string; cx: number; cy: number }) {
  return (
    <div
      style={{
        position: "absolute",
        left: cx - 400,
        top: cy - 14,
        width: 800,
        height: 28,
        lineHeight: "28px",
        textAlign: "center",
        fontFamily: "'Liberation Serif', 'Times New Roman', serif",
        fontSize: 23,
        letterSpacing: "0.3px",
        color: "#1a1a1a",
        whiteSpace: "nowrap",
      }}
    >
      {text}
    </div>
  );
}

export default function App() {
  return (
    <div style={{ position: "absolute", left: 0, top: 0, width: 750, height: 1234, background: "#fff", overflow: "hidden" }}>
      <Panel spec={PANEL_A} top={0} height={376} />
      <Caption text={CAPTIONS[0]} cx={385} cy={392} />
      <Panel spec={PANEL_B} top={413} height={378} />
      <Caption text={CAPTIONS[1]} cx={384} cy={805} />
      <Panel spec={PANEL_C} top={825} height={383} />
      <Caption text={CAPTIONS[2]} cx={385} cy={1218} />
    </div>
  );
}
